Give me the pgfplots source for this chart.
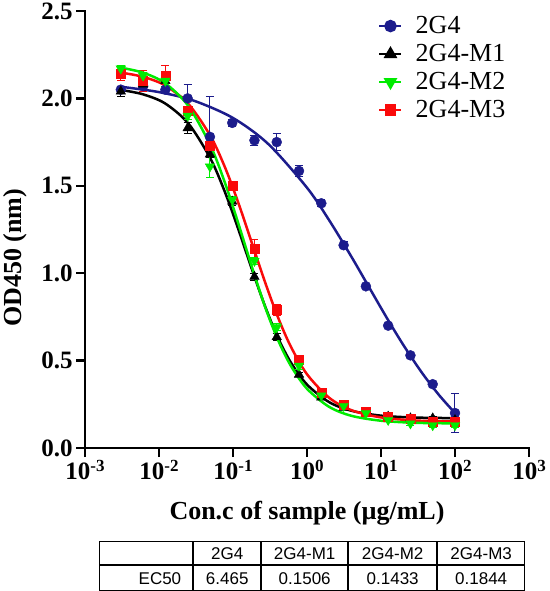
\documentclass[border=0pt]{standalone}
\usepackage{pgfplots}
\pgfplotsset{compat=1.18}
\usepackage{pgfplotstable}
\usepackage{fontspec}
\usepackage{array}
\setmainfont{Liberation Serif}
\newfontfamily\tablefont{Liberation Sans}
\definecolor{cblue}{RGB}{28,28,140}
\definecolor{cgreen}{RGB}{0,235,0}
\definecolor{cred}{RGB}{250,10,10}
\newcommand\sups[1]{\raisebox{8bp}{\fontsize{17bp}{17bp}\selectfont #1}}

\pgfplotstableread{
x y e
0.00305 2.05 0.02
0.0061 2.07 0.02
0.0122 2.05 0.02
0.0244 2.00 0.08
0.0488 1.78 0.23
0.0977 1.86 0.02
0.195 1.76 0.03
0.39 1.75 0.05
0.78 1.585 0.03
1.5625 1.40 0.02
3.125 1.16 0.02
6.25 0.925 0.01
12.5 0.70 0.01
25 0.53 0.01
50 0.365 0.01
100 0.20 0.11
}\tblA
\pgfplotstableread{
x y e
0.00305 2.04 0.03
0.0061 2.08 0.02
0.0122 2.10 0.03
0.0244 1.83 0.03
0.0488 1.68 0.02
0.0977 1.41 0.02
0.195 0.98 0.02
0.39 0.635 0.02
0.78 0.42 0.01
1.5625 0.29 0.01
3.125 0.23 0.01
6.25 0.20 0.01
12.5 0.18 0.01
25 0.17 0.01
50 0.17 0.01
100 0.16 0.01
}\tblB
\pgfplotstableread{
x y e
0.00305 2.17 0.02
0.0061 2.13 0.02
0.0122 2.10 0.03
0.0244 1.90 0.02
0.0488 1.61 0.06
0.0977 1.42 0.02
0.195 1.07 0.02
0.39 0.69 0.02
0.78 0.47 0.02
1.5625 0.30 0.01
3.125 0.24 0.01
6.25 0.20 0.01
12.5 0.16 0.01
25 0.14 0.01
50 0.13 0.01
100 0.13 0.01
}\tblC
\pgfplotstableread{
x y e
0.00305 2.14 0.04
0.0061 2.10 0.06
0.0122 2.13 0.06
0.0244 1.93 0.02
0.0488 1.73 0.02
0.0977 1.50 0.02
0.195 1.14 0.05
0.39 0.79 0.03
0.78 0.505 0.02
1.5625 0.315 0.02
3.125 0.25 0.01
6.25 0.21 0.01
12.5 0.18 0.01
25 0.17 0.01
50 0.15 0.01
100 0.15 0.01
}\tblD

\begin{document}
\begin{tikzpicture}
\begin{axis}[
  width=444bp, height=437bp, scale only axis,
  xmode=log, xmin=1e-3, xmax=1e3, ymin=0, ymax=2.5,
  axis x line*=bottom, axis y line*=left,
  axis line style={line width=2.5bp, line cap=rect},
  tick align=outside, major tick length=9bp,
  major tick style={line width=2.5bp, black},
  xminorticks=false, yminorticks=false,
  xtick={1e-3,1e-2,1e-1,1,1e1,1e2,1e3},
  xticklabels={10\sups{-3},10\sups{-2},10\sups{-1},10\sups{0},10\sups{1},10\sups{2},10\sups{3}},
  ytick={0,0.5,1,1.5,2,2.5},
  yticklabels={0.0,0.5,1.0,1.5,2.0,2.5},
  tick label style={font=\fontsize{25bp}{30bp}\selectfont\bfseries},
  xlabel={Con.c of sample (µg/mL)},
  ylabel={OD450 (nm)},
  label style={font=\fontsize{26bp}{30bp}\selectfont\bfseries},
  xlabel style={at={(axis description cs:0.5,0)}, anchor=center, yshift=-65bp},
  ylabel style={at={(axis description cs:-0.1577,0.4348)}, anchor=center},
  legend style={draw=none, fill=none, at={(axis description cs:0.66,0.998)}, anchor=north west,
    inner sep=0pt, row sep=0pt, font=\fontsize{26bp}{28bp}\selectfont,
    nodes={inner sep=0pt, text height=21bp, text depth=7bp},
    /tikz/every odd column/.append style={column sep=13bp}},
  legend cell align=left,
  legend image code/.code={\draw[mark repeat=2,mark phase=2] plot coordinates {(0bp,0bp) (11bp,0bp) (22bp,0bp)};},
  clip=false,
]
\addlegendimage{cblue, line width=2.5bp, mark=*, mark size=5bp}
\addlegendentry{2G4}
\addlegendimage{black, line width=2.5bp, mark=triangle*, mark size=5.5bp}
\addlegendentry{2G4-M1}
\addlegendimage{cgreen, line width=2.5bp, mark=triangle*, mark size=5.5bp, mark options={rotate=180}}
\addlegendentry{2G4-M2}
\addlegendimage{cred, line width=2.5bp, mark=square*, mark size=4.5bp}
\addlegendentry{2G4-M3}

% 2G4
\addplot[forget plot, cblue, line width=2.5bp, smooth, no marks] coordinates {
(0.003,2.067) (0.01,2.036) (0.03,1.986) (0.1,1.888) (0.3,1.739) (1,1.489) (2,1.302) (4,1.093) (7,0.915) (12,0.744) (20,0.590) (35,0.436) (60,0.306) (100,0.200)};
\addplot[forget plot, only marks, cblue, mark=*, mark size=5bp,
  error bars/.cd, y dir=both, y explicit, error bar style={line width=1bp},
  error mark options={rotate=90, mark size=4bp, line width=1bp}]
  table[x=x, y=y, y error=e]{\tblA};

% 2G4-M1
\addplot[forget plot, black, line width=2.5bp, smooth, no marks] coordinates {
(0.003,2.049) (0.006,2.024) (0.012,1.972) (0.025,1.856) (0.05,1.653) (0.08,1.451) (0.12,1.243) (0.18,1.023) (0.27,0.813) (0.4,0.636) (0.6,0.492) (1,0.363) (2,0.262) (4,0.213) (10,0.185) (30,0.174) (100,0.171)};
\addplot[forget plot, only marks, black, mark=triangle*, mark size=5.5bp,
  error bars/.cd, y dir=both, y explicit, error bar style={line width=1bp},
  error mark options={rotate=90, mark size=4bp, line width=1bp}]
  table[x=x, y=y, y error=e]{\tblB};

% 2G4-M3
\addplot[forget plot, cred, line width=2.5bp, smooth, no marks] coordinates {
(0.003,2.148) (0.006,2.124) (0.012,2.075) (0.025,1.968) (0.05,1.782) (0.08,1.594) (0.12,1.394) (0.18,1.173) (0.27,0.951) (0.4,0.754) (0.6,0.583) (1,0.422) (2,0.287) (4,0.216) (10,0.175) (30,0.157) (100,0.152)};
\addplot[forget plot, only marks, cred, mark=square*, mark size=4.5bp,
  error bars/.cd, y dir=both, y explicit, error bar style={line width=1bp},
  error mark options={rotate=90, mark size=4bp, line width=1bp}]
  table[x=x, y=y, y error=e]{\tblD};

% 2G4-M2
\addplot[forget plot, cgreen, line width=2.5bp, smooth, no marks] coordinates {
(0.003,2.176) (0.006,2.148) (0.012,2.088) (0.025,1.956) (0.05,1.727) (0.08,1.503) (0.12,1.275) (0.18,1.036) (0.27,0.810) (0.4,0.624) (0.6,0.473) (1,0.339) (2,0.235) (4,0.184) (10,0.156) (30,0.144) (100,0.141)};
\addplot[forget plot, only marks, cgreen, mark=triangle*, mark size=5.5bp, mark options={rotate=180},
  error bars/.cd, y dir=both, y explicit, error bar style={line width=1bp},
  error mark options={rotate=90, mark size=4bp, line width=1bp}]
  table[x=x, y=y, y error=e]{\tblC};
\end{axis}

\node[anchor=north west, inner sep=0pt, font=\tablefont\fontsize{17bp}{20bp}\selectfont] at (14bp,-93bp) {%
\setlength\tabcolsep{0pt}\setlength\arrayrulewidth{1bp}\renewcommand\arraystretch{0}%
\begin{tabular}{|>{\raggedleft\arraybackslash}p{81bp}@{\hspace{11bp}\vrule width 2bp}>{\centering\arraybackslash}p{66bp}!{\vrule width 2bp}>{\centering\arraybackslash}p{85bp}!{\vrule width 2bp}>{\centering\arraybackslash}p{87bp}!{\vrule width 2bp}>{\centering\arraybackslash}p{86bp}|}
\hline
\rule[-5bp]{0pt}{22bp} & 2G4 & 2G4-M1 & 2G4-M2 & 2G4-M3\\
\noalign{\hrule height 2bp}
\rule[-6bp]{0pt}{24bp}EC50 & 6.465 & 0.1506 & 0.1433 & 0.1844\\
\hline
\end{tabular}};

\pgfresetboundingbox
\useasboundingbox (-85bp,-143bp) rectangle (465bp,448bp);
\end{tikzpicture}
\end{document}
